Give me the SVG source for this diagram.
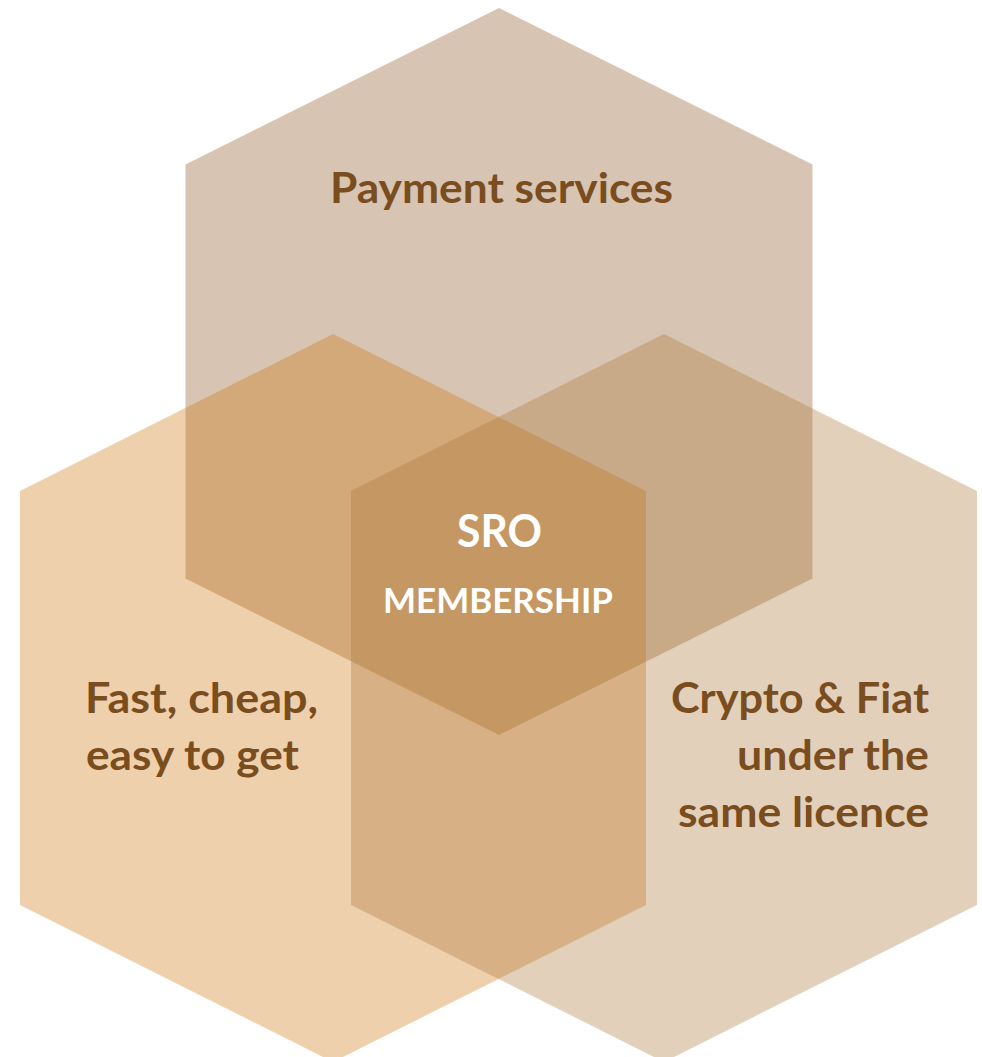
<svg xmlns="http://www.w3.org/2000/svg" width="982" height="1057" viewBox="0 0 982 1057">
  <style>
    .hex { stroke: none; }
    #hex-top .hex { fill: #8C521D; fill-opacity: 0.34; }
    #hex-left .hex { fill: #CD750E; fill-opacity: 0.34; }
    #hex-right .hex { fill: #AA7537; fill-opacity: 0.34; }
    .lbl { font-family: Lato, "Open Sans", "Liberation Sans", sans-serif; font-weight: 700; fill: #7A4D1F; font-size: 42px; }
    .center { font-family: Lato, "Open Sans", "Liberation Sans", sans-serif; font-weight: 700; fill: #FFFFFF; }
  </style>
  <rect width="982" height="1057" fill="#FFFFFF"/>
  <g id="hex-top">
    <polygon class="hex" points="499,8 812.5,164.5 812.5,578.5 499,735 185.5,578.5 185.5,164.5"/>
  </g>
  <g id="hex-left">
    <polygon class="hex" points="333,334 646,491 646,905 333,1062 20,905 20,491"/>
  </g>
  <g id="hex-right">
    <polygon class="hex" points="664,334 977,491 977,905 664,1062 351,905 351,491"/>
  </g>
  <g id="connectors"></g>
  <g id="label-top">
    <text class="lbl" x="330" y="203" textLength="343" lengthAdjust="spacingAndGlyphs">Payment services</text>
  </g>
  <g id="label-left">
    <text class="lbl" x="85" y="713" textLength="233" lengthAdjust="spacingAndGlyphs">Fast, cheap,</text>
    <text class="lbl" x="86" y="770" textLength="213" lengthAdjust="spacingAndGlyphs">easy to get</text>
  </g>
  <g id="label-right">
    <text class="lbl" x="671" y="713" textLength="258" lengthAdjust="spacingAndGlyphs">Crypto &amp; Fiat</text>
    <text class="lbl" x="737" y="770" textLength="192" lengthAdjust="spacingAndGlyphs">under the</text>
    <text class="lbl" x="678" y="827" textLength="251" lengthAdjust="spacingAndGlyphs">same licence</text>
  </g>
  <g id="label-center">
    <text class="center" x="457" y="547" font-size="45" textLength="85" lengthAdjust="spacingAndGlyphs">SRO</text>
    <text class="center" x="383" y="613" font-size="35" textLength="230" lengthAdjust="spacingAndGlyphs">MEMBERSHIP</text>
  </g>
</svg>
